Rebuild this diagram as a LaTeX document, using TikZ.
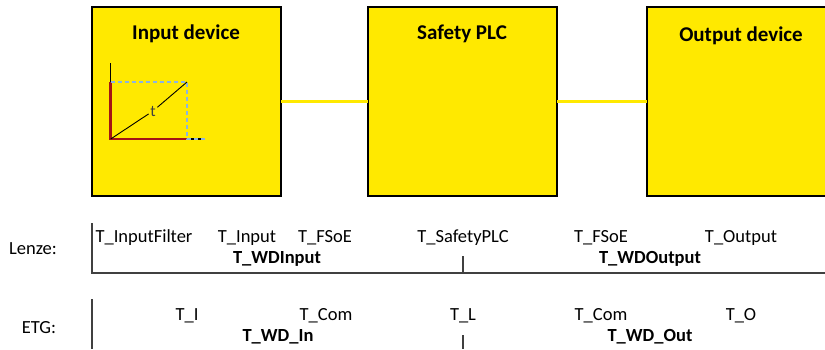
\documentclass[tikz,border=0pt]{standalone}
\usepackage{fontspec}
\setmainfont{Carlito}
\definecolor{boxyellow}{RGB}{255,233,0}
\definecolor{axred}{RGB}{165,20,20}
\definecolor{dashblue}{RGB}{140,180,225}
\definecolor{linegray}{RGB}{64,64,64}
\begin{document}
\begin{tikzpicture}[x=1pt,y=-1pt,
  devbox/.style={draw=black,line width=2pt,fill=boxyellow,minimum width=189pt,minimum height=189pt,inner sep=0pt,outer sep=0pt},
  title/.style={font=\fontsize{21}{24}\selectfont\bfseries,inner sep=0pt},
  lbl/.style={font=\fontsize{18.5}{21}\selectfont,inner sep=0pt},
  blbl/.style={font=\fontsize{18.5}{21}\selectfont\bfseries,inner sep=0pt},
  link/.style={draw=boxyellow,line width=3.5pt},
  bracket/.style={draw=linegray,line width=1.8pt}]
\useasboundingbox (0,0) rectangle (825,349);
% boxes
\node[devbox] (in) at (186.5,101.5) {};
\node[devbox] (plc) at (462.5,101.5) {};
\node[devbox] (out) at (741.5,101.5) {};
\draw[link] (in.east) -- (plc.west);
\draw[link] (plc.east) -- (out.west);
\node[title] (tin) at (186,34) {Input device};
\node[title] (tplc) at (462,34) {Safety PLC};
\node[title] (tout) at (741,36) {Output device};
% graph
\coordinate (o) at (110.7,139);
\coordinate (ytop) at (110.7,63);
\coordinate (xend) at (205,139);
\coordinate (ul) at (110.7,82);
\coordinate (ur) at (187,82);
\coordinate (lr) at (187,139);
\draw[black,line width=1.5pt] (ytop) -- (o) -- (xend);
\draw[axred,line width=2.5pt] (ul) -- (o) -- (lr);
\draw[dashblue,line width=1.2pt,dash pattern=on 4pt off 3pt] (ul) -- (ur) -- (lr) -- (xend);
\node[font=\fontsize{16}{18}\selectfont,text=linegray,inner sep=1.5pt] (t) at (153,111) {t};
\draw[black,line width=0.9pt] (o) -- (t) -- (ur);
% Lenze row
\node[lbl] (lenze) at (33,249) {Lenze:};
\coordinate (l1) at (92,223);
\coordinate (l2) at (92,273);
\coordinate (l3) at (825,273);
\coordinate (lt1) at (463,256);
\coordinate (lt2) at (463,273);
\draw[bracket] (l1) -- (l2) -- (l3);
\draw[bracket] (lt1) -- (lt2);
\node[lbl] (a1) at (144,238) {T\_InputFilter};
\node[lbl] (a2) at (247,238) {T\_Input};
\node[lbl] (a3) at (325,238) {T\_FSoE};
\node[lbl] (a4) at (463,238) {T\_SafetyPLC};
\node[lbl] (a5) at (601,238) {T\_FSoE};
\node[lbl] (a6) at (741,238) {T\_Output};
\node[blbl] (wdi) at (277,259) {T\_WDInput};
\node[blbl] (wdo) at (650,259) {T\_WDOutput};
% ETG row
\node[lbl] (etg) at (39,328) {ETG:};
\coordinate (e1) at (92,299);
\coordinate (e2) at (92,349);
\coordinate (et1) at (463,335);
\coordinate (et2) at (463,349);
\draw[bracket] (e1) -- (e2);
\draw[bracket] (et1) -- (et2);
\node[lbl] (b1) at (187,316) {T\_I};
\node[lbl] (b2) at (326,316) {T\_Com};
\node[lbl] (b3) at (463,316) {T\_L};
\node[lbl] (b4) at (601,316) {T\_Com};
\node[lbl] (b5) at (741,316) {T\_O};
\node[blbl] (wdin) at (278,337) {T\_WD\_In};
\node[blbl] (wdout) at (650,337) {T\_WD\_Out};
\end{tikzpicture}
\end{document}
